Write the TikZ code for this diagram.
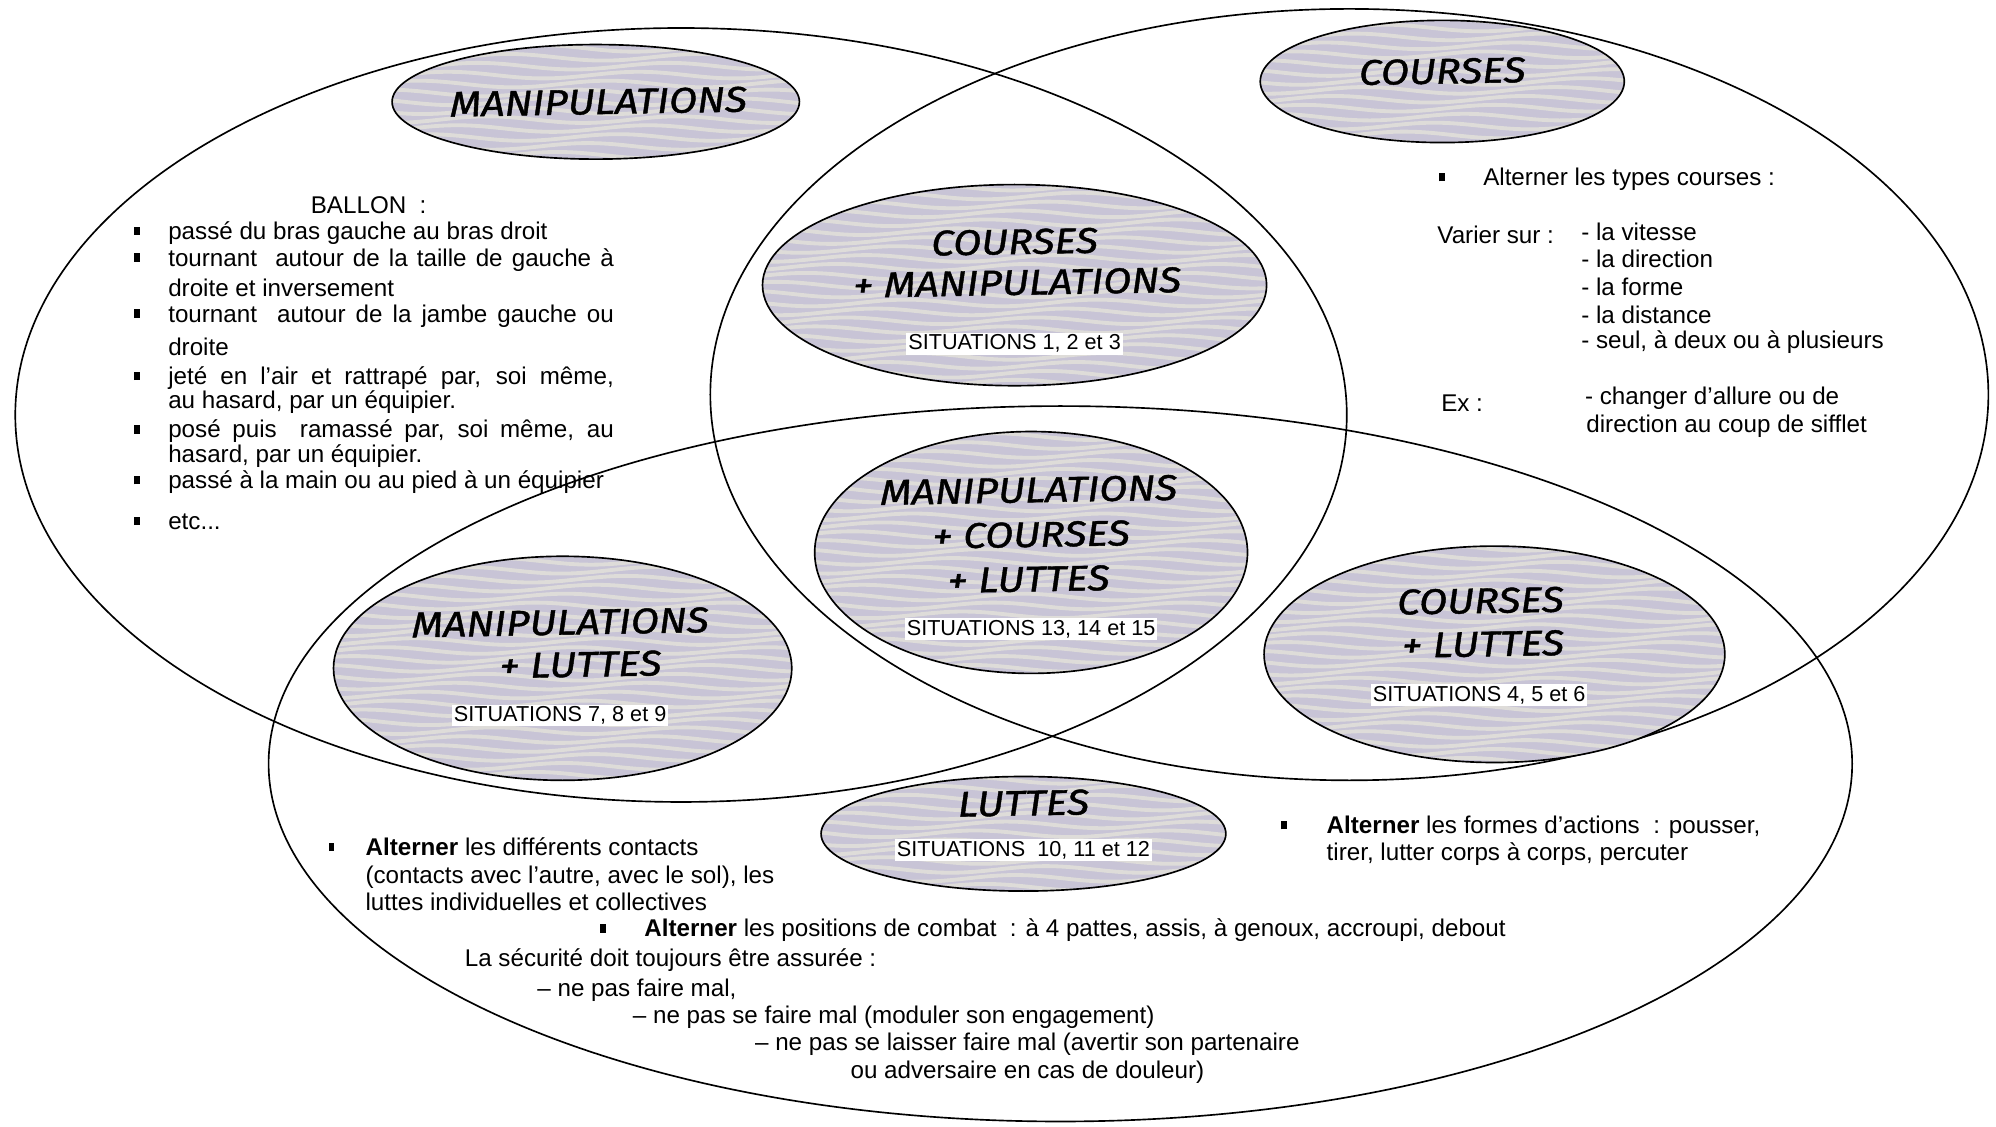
\documentclass[tikz,border=0pt]{standalone}
\usepackage{fontspec}
\setmainfont{Liberation Sans}
\newfontfamily\headfont[FakeStretch=1.15, FakeBold=1.2]{Fira Sans}
\usetikzlibrary{shapes.geometric}
\definecolor{padfill}{HTML}{C8C4D6}
\definecolor{padwave}{HTML}{E2E1DA}
\newcommand\sqb{\rule[0.18em]{0.24em}{0.34em}}
\newcommand\bul[1]{\makebox[#1][l]{\sqb}}
\tikzset{
  zone/.style={draw, line width=1.3pt, ellipse, inner sep=0pt},
  pad/.style={draw, line width=1.3pt, ellipse, inner sep=0pt, fill=padfill,
    path picture={
      \foreach \k in {-14,...,14}{
        \draw[padwave, line width=3pt, opacity=0.85]
          plot[domain=-210:210, samples=50, smooth]
          (\x, {\k*7 + 2.6*sin(\x*2.4 + \k*57)});
      }}},
  head/.style={font=\headfont\itshape\fontsize{28}{33}\selectfont, inner sep=0pt, rotate=1},
  sit/.style={font=\fontsize{17}{19}\selectfont, fill=white, inner sep=1.5pt},
  txt/.style={font=\fontsize{19}{21}\selectfont, anchor=base west, inner sep=0pt,
    text height=13pt, text depth=3pt},
}
\begin{document}
\begin{tikzpicture}[x=1pt, y=-1pt]
\useasboundingbox (0,0) rectangle (1568,885);
\fill[white] (0,0) rectangle (1568,885);

% the three large sets
\node[zone, minimum width=1046pt, minimum height=608pt] (setM) at (535,326) {};
\node[zone, minimum width=1004pt, minimum height=606pt] (setC) at (1060,310) {};
\node[zone, minimum width=1244pt, minimum height=562pt] (setL) at (833,600) {};

% labelled pads
\node[pad, minimum width=320pt, minimum height=90pt] (pM) at (468,80) {};
\node[pad, minimum width=286pt, minimum height=96pt] (pC) at (1133,64) {};
\node[pad, minimum width=396pt, minimum height=158pt] (pCM) at (797,224) {};
\node[pad, minimum width=340pt, minimum height=190pt] (pMCL) at (810,434) {};
\node[pad, minimum width=360pt, minimum height=176pt] (pML) at (442,525) {};
\node[pad, minimum width=362pt, minimum height=170pt] (pCL) at (1174,514) {};
\node[pad, minimum width=318pt, minimum height=90pt] (pL) at (804,655) {};

% pad titles
\node[head] (tM) at (470,80) {MANIPULATIONS};
\node[head] (tC) at (1133,56) {COURSES};
\node[head] (tCM1) at (797,190) {COURSES};
\node[head] (tCM2) at (799,222) {+ MANIPULATIONS};
\node[head] (tMCL1) at (808,385) {MANIPULATIONS};
\node[head] (tMCL2) at (810,420) {+ COURSES};
\node[head] (tMCL3) at (808,455) {+ LUTTES};
\node[head] (tML1) at (440,489) {MANIPULATIONS};
\node[head] (tML2) at (456,522) {+ LUTTES};
\node[head] (tCL1) at (1163,472) {COURSES};
\node[head] (tCL2) at (1165,506) {+ LUTTES};
\node[head] (tL) at (804,631) {LUTTES};

% situation numbers
\node[sit] (sCM) at (797,270) {SITUATIONS 1, 2 et 3};
\node[sit] (sMCL) at (810,494) {SITUATIONS 13, 14 et 15};
\node[sit] (sML) at (440,562) {SITUATIONS 7, 8 et 9};
\node[sit] (sCL) at (1162,546) {SITUATIONS 4, 5 et 6};
\node[sit] (sL) at (804,668) {SITUATIONS\ \ 10, 11 et 12};

% ball handling
\node[txt] (b0) at (244,168) {BALLON\ \ :};
\node[txt] (b1) at (105,188) {\bul{27pt}passé du bras gauche au bras droit};
\node[txt] (b2) at (105,209) {\bul{27pt}\makebox[350pt][s]{tournant\ \ autour de la taille de gauche à}};
\node[txt] (b3) at (132,233) {droite et inversement};
\node[txt] (b4) at (105,253) {\bul{27pt}\makebox[350pt][s]{tournant\ \ autour de la jambe gauche ou}};
\node[txt] (b5) at (132,279) {droite};
\node[txt] (b6) at (105,302) {\bul{27pt}\makebox[350pt][s]{jeté en l’air et rattrapé par, soi même,}};
\node[txt] (b7) at (132,321) {au hasard, par un équipier.};
\node[txt] (b8) at (105,344) {\bul{27pt}\makebox[350pt][s]{posé puis\ \ ramassé par, soi même, au}};
\node[txt] (b9) at (132,363) {hasard, par un équipier.};
\node[txt] (b10) at (105,384) {\bul{27pt}passé à la main ou au pied à un équipier};
\node[txt] (b11) at (105,416) {\bul{27pt}etc...};

% running
\node[txt] (c0) at (1130,146) {\bul{35pt}Alterner les types courses :};
\node[txt] (c1) at (1129,191) {Varier sur :};
\node[txt] (c2) at (1242,189) {- la vitesse};
\node[txt] (c3) at (1242,210) {- la direction};
\node[txt] (c4) at (1242,232) {- la forme};
\node[txt] (c5) at (1242,254) {- la distance};
\node[txt] (c6) at (1242,274) {- seul, à deux ou à plusieurs};
\node[txt] (c7) at (1132,323) {Ex :};
\node[txt] (c8) at (1245,318) {- changer d’allure ou de};
\node[txt] (c9) at (1246,340) {direction au coup de sifflet};

% wrestling
\node[txt] (l1) at (258,672) {\bul{29pt}\textbf{Alterner} les différents contacts};
\node[txt] (l2) at (287,694) {(contacts avec l’autre, avec le sol), les};
\node[txt] (l3) at (287,715) {luttes individuelles et collectives};
\node[txt] (l4) at (1006,655) {\bul{36pt}\textbf{Alterner} les formes d’actions\ \ : pousser,};
\node[txt] (l5) at (1042,676) {tirer, lutter corps à corps, percuter};
\node[txt] (l6) at (471,736) {\bul{35pt}\textbf{Alterner} les positions de combat\ \ : à 4 pattes, assis, à genoux, accroupi, debout};
\node[txt] (l7) at (365,759) {La sécurité doit toujours être assurée :};
\node[txt] (l8) at (422,783) {– ne pas faire mal,};
\node[txt] (l9) at (497,804) {– ne pas se faire mal (moduler son engagement)};
\node[txt] (l10) at (593,825) {– ne pas se laisser faire mal (avertir son partenaire};
\node[txt] (l11) at (668,847) {ou adversaire en cas de douleur)};
\end{tikzpicture}
\end{document}
